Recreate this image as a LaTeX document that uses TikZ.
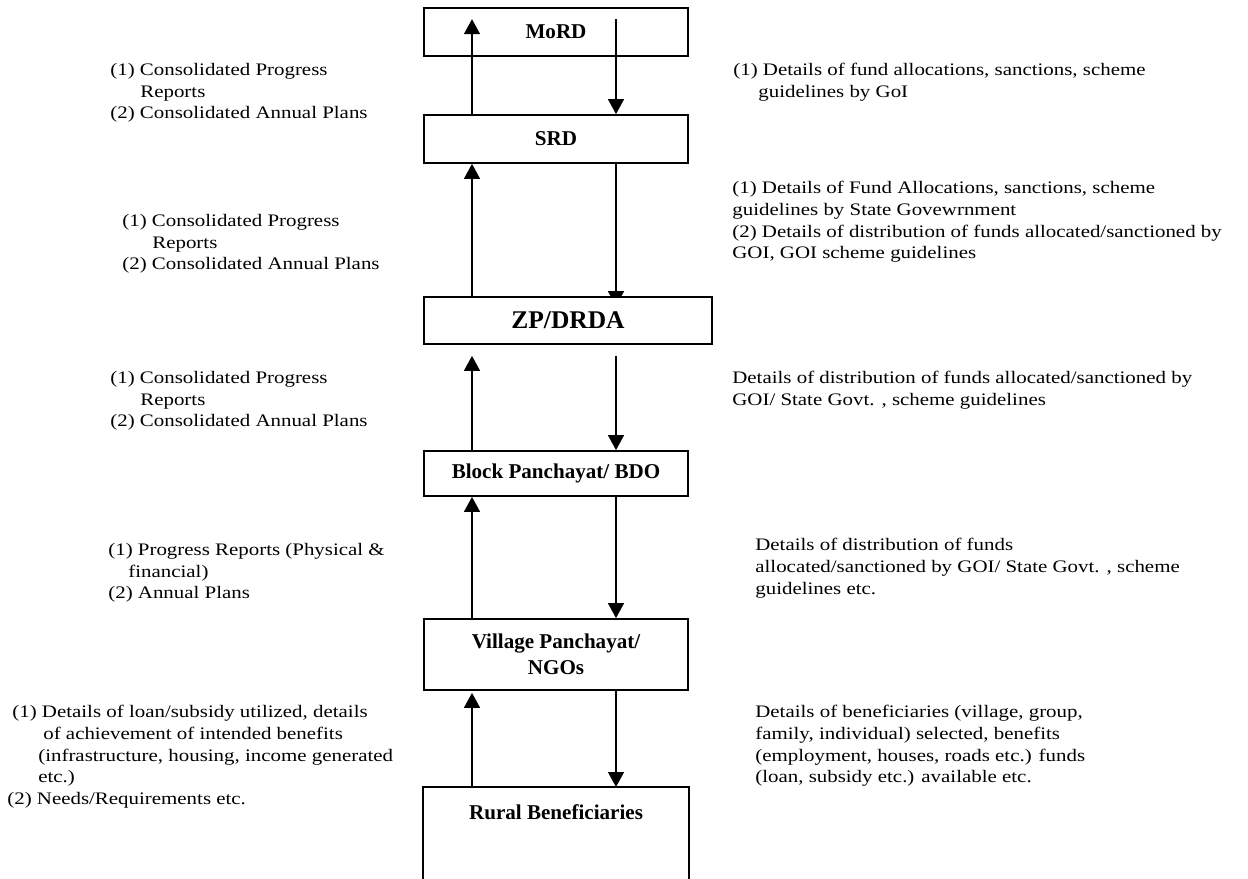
\documentclass[tikz,border=0pt]{standalone}
\usepackage{fontspec}
\setmainfont{Liberation Serif}[FakeStretch=1.19]
\newfontfamily\boxfont{Liberation Serif}
\usetikzlibrary{arrows.meta,calc}
\pgfdeclarelayer{behind}
\pgfsetlayers{behind,main}

\begin{document}
\begin{tikzpicture}[x=0.02cm, y=-0.02cm]
      \tikzset{level box/.style={draw, fill=white, line width=1pt, minimum width=264*0.02cm, minimum height=48*0.02cm, inner sep=0pt, font=\boxfont\bfseries\fontsize{12}{14.6}\selectfont, align=center},
               info text/.style={anchor=north west, inner sep=0pt, align=left, font=\fontsize{10}{12.35}\selectfont},
               flow/.style={line width=1pt, -{Triangle[width=9pt,length=8.5pt]}}}
      \useasboundingbox (0,0) rectangle (1248,879);

      % Boxes of the hierarchy
      \node[level box] (mord) at (556, 32) {MoRD};
      \node[level box] (srd) at (556, 139) {SRD};
      \node[level box, minimum width=288*0.02cm, minimum height=47*0.02cm, font=\boxfont\bfseries\fontsize{14.5}{16}\selectfont] (zp) at (568, 320.5) {ZP/DRDA};
      \node[level box, minimum height=45*0.02cm] (block) at (556, 473.5) {Block Panchayat/ BDO};
      \node[level box, minimum height=71*0.02cm] (village) at (556, 654.5) {Village Panchayat/\\NGOs};
      \node[level box, draw=none, anchor=north] (rural) at (556, 787) {Rural Beneficiaries};

      % Rural box is open at the bottom
      \draw[line width=1pt] ($(rural.north west)+(0,92)$) -- (rural.north west) -- (rural.north east) -- ++(0,92);

      % Upward reports (left) and downward details (right)
      \draw[flow] ($(srd.north)+(-84,0)$) -- ($(mord.north)+(-84,12)$);
      \draw[flow] ($(mord.north)+(60,12)$) -- ($(srd.north)+(60,0)$);

      \draw[flow] ($(zp.north)+(-96,0)$) -- ($(srd.south)+(-84,0)$);
      \begin{pgfonlayer}{behind}
        \draw[flow] ($(srd.south)+(60,0)$) -- ($(zp.north)+(48,10)$);
      \end{pgfonlayer}

      \draw[flow] ($(block.north)+(-84,0)$) -- ($(zp.south)+(-96,11)$);
      \draw[flow] ($(zp.south)+(48,11)$) -- ($(block.north)+(60,0)$);

      \draw[flow] ($(village.north)+(-84,0)$) -- ($(block.south)+(-84,0)$);
      \draw[flow] ($(block.south)+(60,0)$) -- ($(village.north)+(60,0)$);

      \draw[flow] ($(rural.north)+(-84,0)$) -- ($(village.south)+(-84,2)$);
      \draw[flow] ($(village.south)+(60,0)$) -- ($(rural.north)+(60,0)$);

      % Texts on the left
      \node[info text] (up1) at (110, 63) {(1) Consolidated Progress\\\hspace{0.6cm}Reports\\(2) Consolidated Annual Plans};
      \node[info text] (up2) at (122, 214) {(1) Consolidated Progress\\\hspace{0.6cm}Reports\\(2) Consolidated Annual Plans};
      \node[info text] (up3) at (110, 371) {(1) Consolidated Progress\\\hspace{0.6cm}Reports\\(2) Consolidated Annual Plans};
      \node[info text] (up4) at (108, 543) {(1) Progress Reports (Physical \&\\\hspace{0.4cm}financial)\\(2) Annual Plans};
      \node[info text] (up5) at (7, 705) {\hspace{0.1cm}(1) Details of loan/subsidy utilized, details\\\hspace{0.72cm}of achievement of intended benefits\\\hspace{0.62cm}(infrastructure, housing, income generated\\\hspace{0.62cm}etc.)\\(2) Needs/Requirements etc.};

      % Texts on the right
      \node[info text] (down1) at (733, 63) {(1) Details of fund allocations, sanctions, scheme\\\hspace{0.5cm}guidelines by GoI};
      \node[info text] (down2) at (732, 181) {(1) Details of Fund Allocations, sanctions, scheme\\guidelines by State Govewrnment\\(2) Details of distribution of funds allocated/sanctioned by\\GOI, GOI scheme guidelines};
      \node[info text] (down3) at (732, 371) {Details of distribution of funds allocated/sanctioned by\\GOI/ State Govt. , scheme guidelines};
      \node[info text] (down4) at (755, 538) {Details of distribution of funds\\allocated/sanctioned by GOI/ State Govt. , scheme\\guidelines etc.};
      \node[info text] (down5) at (755, 705) {Details of beneficiaries (village, group,\\family, individual) selected, benefits\\(employment, houses, roads etc.) funds\\(loan, subsidy etc.) available etc.};

    \end{tikzpicture}
\end{document}
